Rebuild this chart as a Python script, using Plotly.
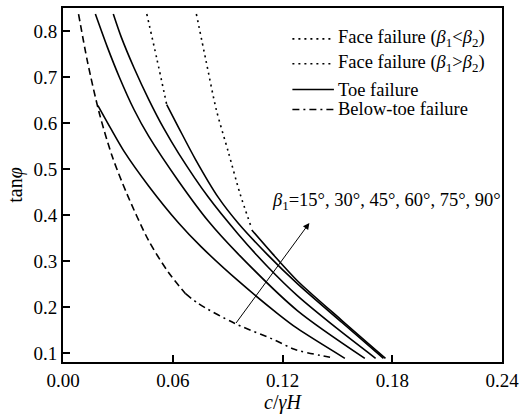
import plotly.graph_objects as go

# c/(gamma*H) and tan(phi) pairs for each beta1 curve, split by failure mode
b15_upper_c = [0.0085, 0.0134, 0.0199, 0.0269, 0.0350, 0.0469, 0.0578, 0.0670]
b15_upper_t = [0.8374, 0.7335, 0.6210, 0.5279, 0.4457, 0.3439, 0.2746, 0.2292]
b15_below_c = [0.0670, 0.0740, 0.0940, 0.1162, 0.1265, 0.1460]
b15_below_t = [0.2292, 0.2076, 0.1643, 0.1275, 0.1081, 0.0907]

b30_toe_c = [0.0191, 0.0264, 0.0334, 0.0469, 0.0632, 0.0756, 0.0957, 0.1173, 0.1281, 0.1541]
b30_toe_t = [0.6383, 0.5864, 0.5387, 0.4630, 0.3829, 0.3309, 0.2573, 0.1859, 0.1535, 0.0885]

b45_toe_c = [0.0177, 0.0242, 0.0307, 0.0388, 0.0469, 0.0632, 0.0794, 0.0957, 0.1281, 0.1650]
b45_toe_t = [0.8374, 0.7660, 0.7011, 0.6297, 0.5712, 0.4738, 0.3872, 0.3158, 0.1924, 0.0885]

b60_toe_c = [0.0275, 0.0318, 0.0388, 0.0469, 0.0551, 0.0632, 0.0794, 0.0957, 0.1119, 0.1281, 0.1498, 0.1709]
b60_toe_t = [0.8374, 0.7877, 0.7206, 0.6513, 0.5885, 0.5344, 0.4392, 0.3591, 0.2877, 0.2249, 0.1535, 0.0885]

b75_face_c = [0.0458, 0.0513, 0.0567]
b75_face_t = [0.8374, 0.7400, 0.6403]
b75_toe_c = [0.0567, 0.0632, 0.0724, 0.0848, 0.0957, 0.1119, 0.1281, 0.1525, 0.1752]
b75_toe_t = [0.6403, 0.5905, 0.5214, 0.4391, 0.3829, 0.3136, 0.2509, 0.1664, 0.0885]

b90_face_c = [0.0729, 0.0783, 0.0838, 0.0903, 0.0967, 0.1027]
b90_face_t = [0.8374, 0.7335, 0.6294, 0.5385, 0.4476, 0.3762]
b90_toe_c = [0.1032, 0.1146, 0.1281, 0.1525, 0.1763]
b90_toe_t = [0.3677, 0.3157, 0.2573, 0.1707, 0.0885]

x_ticks = [0.00, 0.06, 0.12, 0.18, 0.24]
x_tick_labels = ["0.00", "0.06", "0.12", "0.18", "0.24"]
y_ticks = [0.1, 0.2, 0.3, 0.4, 0.5, 0.6, 0.7, 0.8]
y_tick_labels = ["0.1", "0.2", "0.3", "0.4", "0.5", "0.6", "0.7", "0.8"]

legend_labels = [
    "Face failure (<i>β</i><sub>1</sub><<i>β</i><sub>2</sub>)",
    "Face failure (<i>β</i><sub>1</sub>><i>β</i><sub>2</sub>)",
    "Toe failure",
    "Below-toe failure",
]
beta_label = "<i>β</i><sub>1</sub>=15°, 30°, 45°, 60°, 75°, 90°"
arrow_tail = (0.094, 0.162)
arrow_head = (0.1347, 0.383)

FONT = "Liberation Serif"
LW = 1.6
DOT = "2px,4px"
DASH = "7px,4px"
DASHDOT = "7px,4px,2px,4px"

fig = go.Figure()


def add_curve(xs, ys, dash):
    fig.add_trace(go.Scatter(
        x=xs, y=ys, mode="lines",
        line=dict(color="black", width=LW, dash=dash, shape="spline", smoothing=0.8),
        hoverinfo="skip", showlegend=False,
    ))


add_curve(b15_upper_c, b15_upper_t, DASH)
add_curve(b15_below_c, b15_below_t, DASHDOT)
add_curve(b30_toe_c, b30_toe_t, "solid")
add_curve(b45_toe_c, b45_toe_t, "solid")
add_curve(b60_toe_c, b60_toe_t, "solid")
add_curve(b75_face_c, b75_face_t, DOT)
add_curve(b75_toe_c, b75_toe_t, "solid")
add_curve(b90_face_c, b90_face_t, DOT)
add_curve(b90_toe_c, b90_toe_t, "solid")

# plot-area geometry in pixels, used to place the hand-built legend
L, R, T, B = 63, 18, 6, 57
W, H = 525, 419
PW, PH = W - L - R, H - T - B


def px(xp):
    return (xp - L) / PW


def py(yp):
    return 1 - (yp - T) / PH


shapes = []
annotations = []
rows = [37, 62, 88, 108]
styles = [DOT, DOT, "solid", DASHDOT]
for yr, st, lab in zip(rows, styles, legend_labels):
    shapes.append(dict(type="line", xref="paper", yref="paper",
                       x0=px(295), x1=px(337), y0=py(yr), y1=py(yr),
                       line=dict(color="black", width=LW, dash=st)))
    annotations.append(dict(xref="paper", yref="paper", x=px(339), y=py(yr),
                            xanchor="left", yanchor="middle", text=lab,
                            showarrow=False, font=dict(family=FONT, size=18.5, color="black")))

annotations.append(dict(x=arrow_head[0], y=arrow_head[1], ax=arrow_tail[0], ay=arrow_tail[1],
                        xref="x", yref="y", axref="x", ayref="y", text="",
                        showarrow=True, arrowhead=2, arrowsize=1.3, arrowwidth=1,
                        arrowcolor="black"))
annotations.append(dict(x=0.113, y=0.430, xref="x", yref="y", xanchor="left",
                        yanchor="middle", text=beta_label, showarrow=False,
                        font=dict(family=FONT, size=18.5, color="black")))

fig.update_layout(
    width=W, height=H,
    margin=dict(l=L, r=R, t=T, b=B),
    paper_bgcolor="white", plot_bgcolor="white",
    font=dict(family=FONT, color="black", size=19),
    showlegend=False,
    shapes=shapes, annotations=annotations,
    xaxis=dict(range=[0, 0.24], tickvals=x_ticks, ticktext=x_tick_labels,
               ticks="inside", ticklen=7, tickwidth=1.5, tickcolor="black",
               showline=True, linewidth=1.8, linecolor="black", mirror=True,
               showgrid=False, zeroline=False, tickfont=dict(family=FONT, size=19),
               title=dict(text="<i>c</i>/<i>γH</i>", font=dict(family=FONT, size=20), standoff=4)),
    yaxis=dict(range=[0.0805, 0.8505], tickvals=y_ticks, ticktext=y_tick_labels,
               ticks="inside", ticklen=7, tickwidth=1.5, tickcolor="black",
               showline=True, linewidth=1.8, linecolor="black", mirror=True,
               showgrid=False, zeroline=False, tickfont=dict(family=FONT, size=19),
               title=dict(text="tan<i>φ</i>", font=dict(family=FONT, size=20), standoff=6)),
)

fig.write_html("out.html")
